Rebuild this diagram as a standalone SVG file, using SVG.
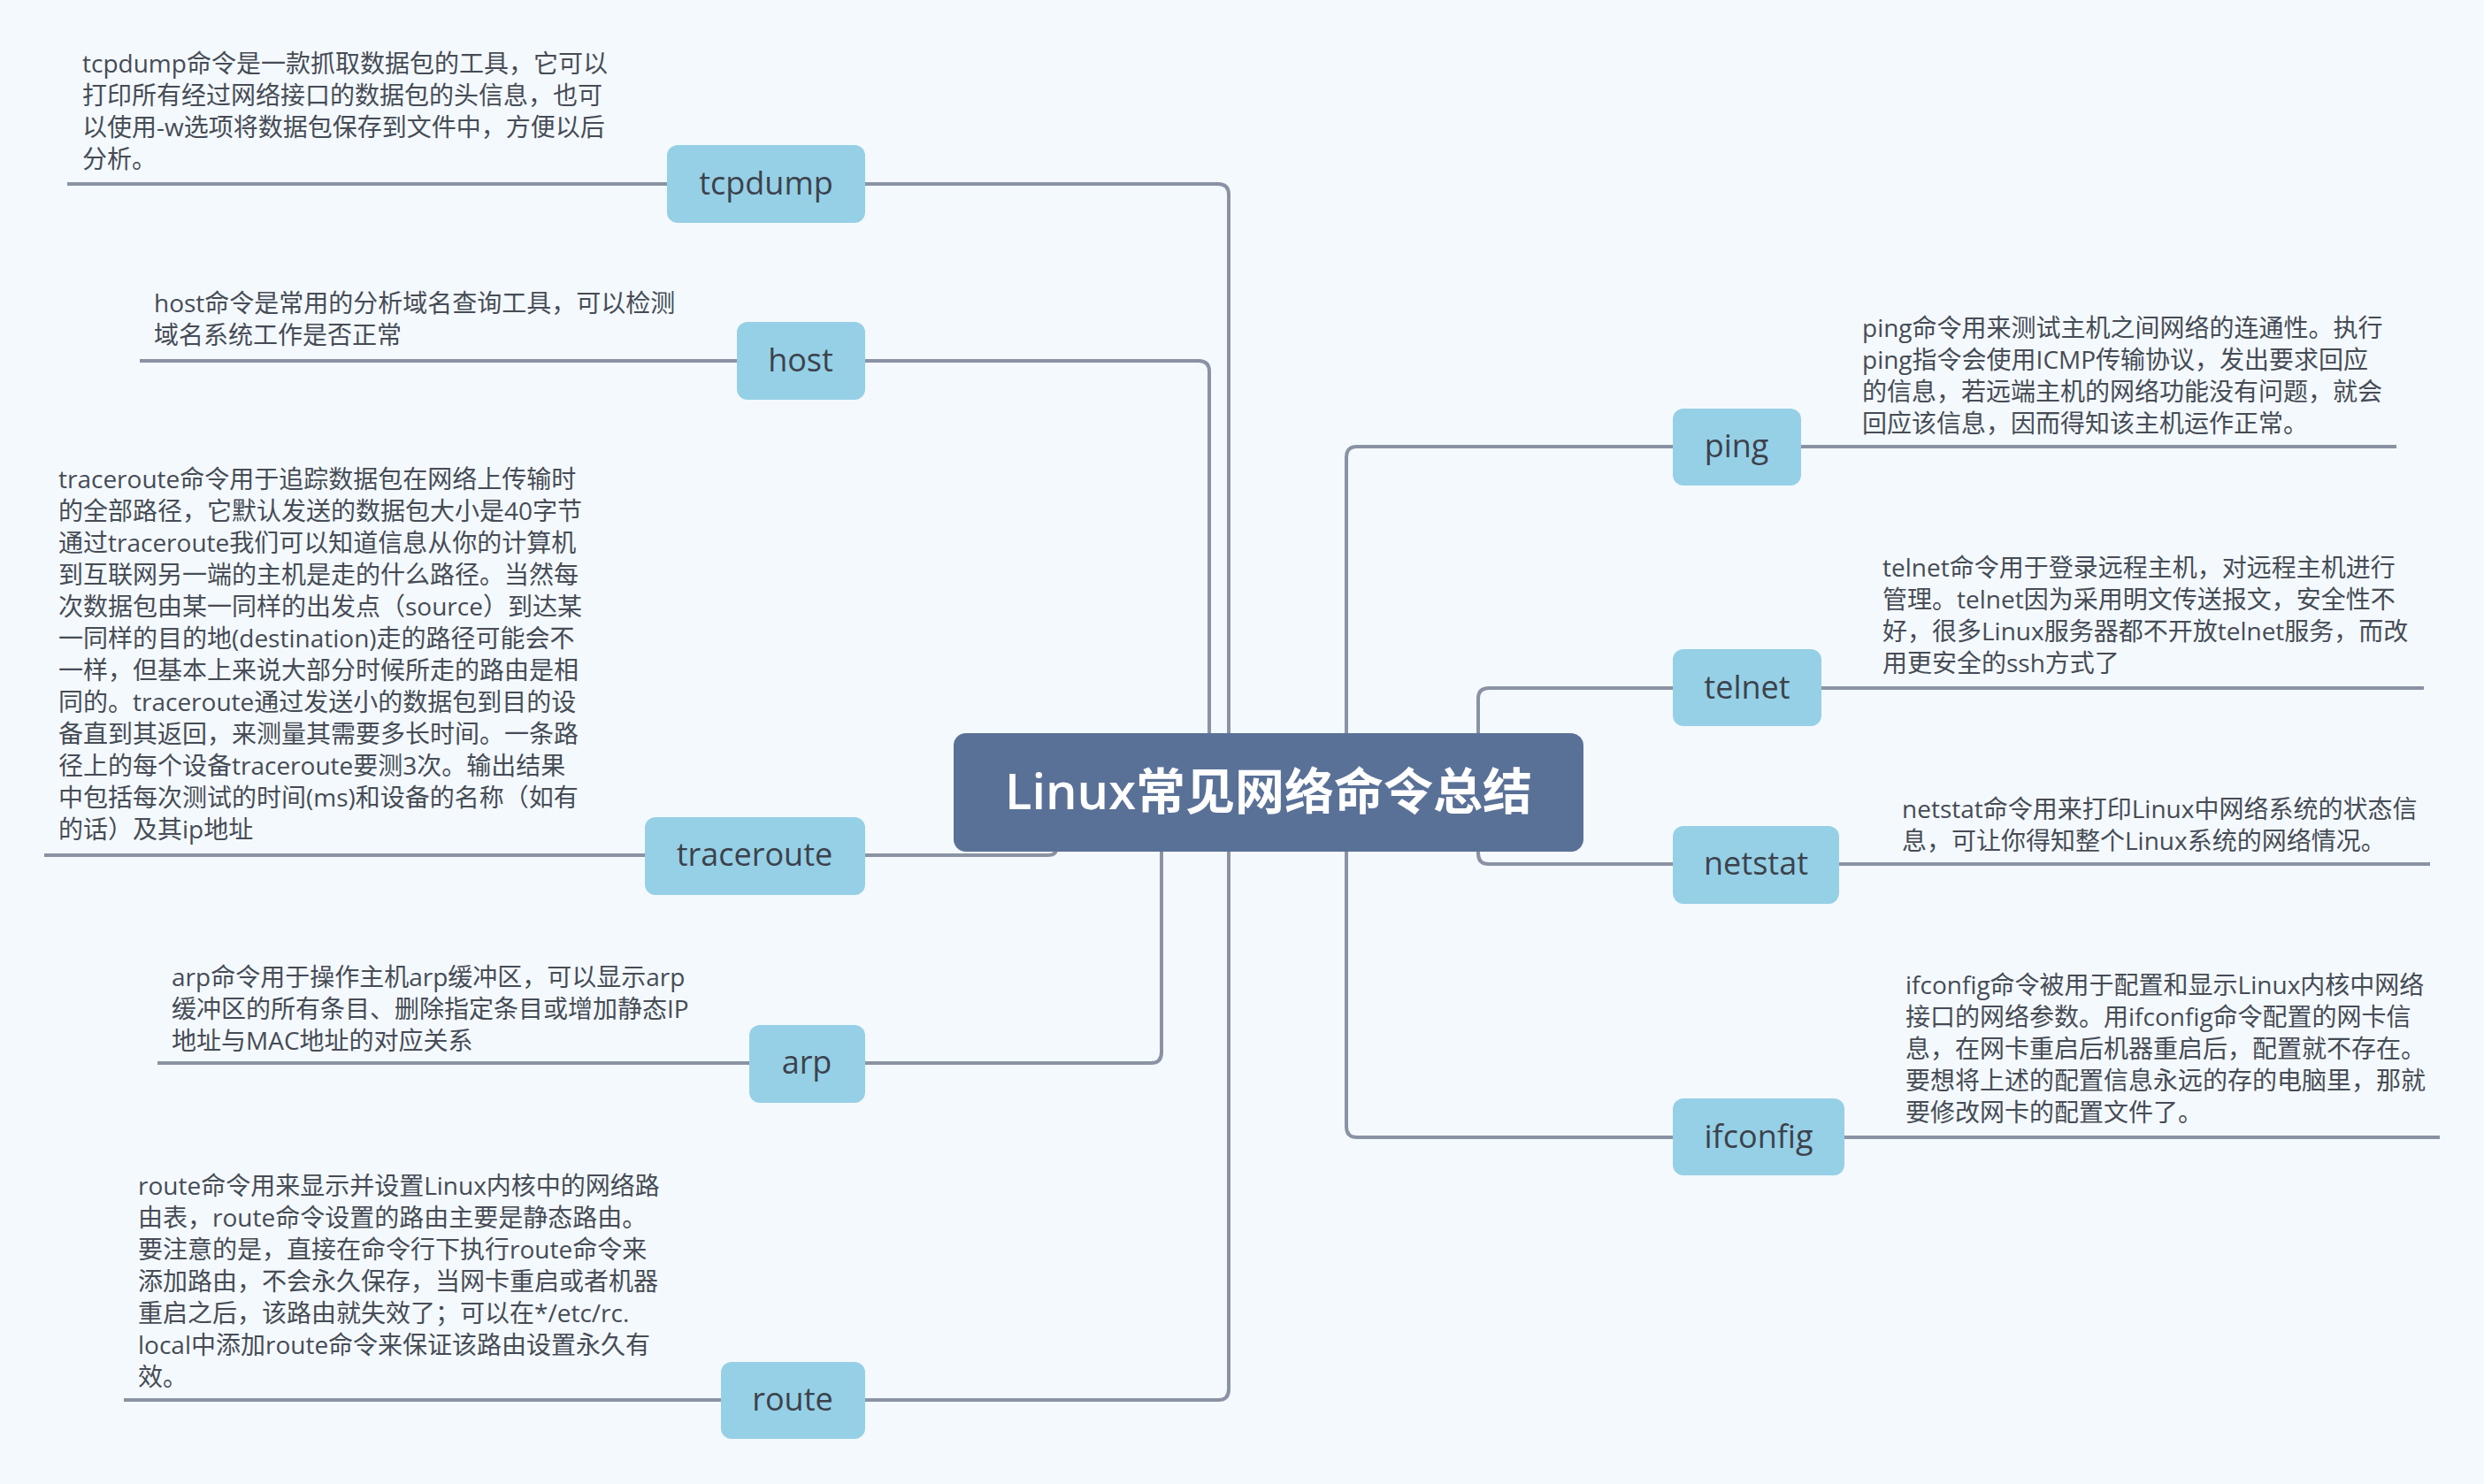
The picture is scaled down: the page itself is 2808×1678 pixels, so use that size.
<svg xmlns="http://www.w3.org/2000/svg" width="2808" height="1678" viewBox="0 0 2808 1678">
<style>
.bg{fill:#f4f9fd}
.ln{fill:none;stroke:#8a93a4;stroke-width:4;stroke-linecap:butt}
.nd{fill:#96d0e6}
.nt{font-family:"Open Sans","Noto Sans CJK SC",sans-serif;font-size:36px;fill:#3c424c;text-anchor:middle}
.ds{font-family:"Open Sans","Noto Sans CJK SC",sans-serif;font-size:28px;fill:#464c56}
.ct{fill:#5a7197}
.tt{font-family:"Open Sans","Noto Sans CJK SC",sans-serif;font-size:56px;font-weight:bold;fill:#ffffff;text-anchor:middle}
</style>
<rect class="bg" x="0" y="0" width="2808" height="1678"/>
<g id="connectors">
<path class="ln" d="M978 208 H1377 Q1389 208 1389 220 V1571 Q1389 1583 1377 1583 H978"/>
<path class="ln" d="M978 408 H1355 Q1367 408 1367 420 V830"/>
<path class="ln" d="M978 967 H1184 Q1194 967 1194 960"/>
<path class="ln" d="M1313 962 V1190 Q1313 1202 1301 1202 H978"/>
<path class="ln" d="M1891 505 H1534 Q1522 505 1522 517 V1274 Q1522 1286 1534 1286 H1891"/>
<path class="ln" d="M1891 778 H1683 Q1671 778 1671 790 V965 Q1671 977 1683 977 H1891"/>
<path class="ln" d="M76 208 H754"/>
<path class="ln" d="M158 408 H833"/>
<path class="ln" d="M50 967 H729"/>
<path class="ln" d="M178 1202 H847"/>
<path class="ln" d="M140 1583 H815"/>
<path class="ln" d="M2036 505 H2709"/>
<path class="ln" d="M2059 778 H2740"/>
<path class="ln" d="M2079 977 H2747"/>
<path class="ln" d="M2085 1286 H2758"/>
</g>
<g id="center">
<rect class="ct" x="1078" y="829" width="712" height="134" rx="14"/>
<text class="tt" x="1434" y="915"><tspan font-weight="600">Linux</tspan>常见网络命令总结</text>
</g>
<g id="tcpdump">
<rect class="nd" x="754" y="164" width="224" height="88" rx="12"/>
<text class="nt" x="866" y="220">tcpdump</text>
<text class="ds" x="93" y="82">tcpdump命令是一款抓取数据包的工具，它可以</text>
<text class="ds" x="93" y="118">打印所有经过网络接口的数据包的头信息，也可</text>
<text class="ds" x="93" y="154">以使用-w选项将数据包保存到文件中，方便以后</text>
<text class="ds" x="93" y="190">分析。</text>
</g>
<g id="host">
<rect class="nd" x="833" y="364" width="145" height="88" rx="12"/>
<text class="nt" x="905" y="420">host</text>
<text class="ds" x="174" y="353">host命令是常用的分析域名查询工具，可以检测</text>
<text class="ds" x="174" y="389">域名系统工作是否正常</text>
</g>
<g id="traceroute">
<rect class="nd" x="729" y="924" width="249" height="88" rx="12"/>
<text class="nt" x="853" y="979">traceroute</text>
<text class="ds" x="66" y="552">traceroute命令用于追踪数据包在网络上传输时</text>
<text class="ds" x="66" y="588">的全部路径，它默认发送的数据包大小是40字节</text>
<text class="ds" x="66" y="624">通过traceroute我们可以知道信息从你的计算机</text>
<text class="ds" x="66" y="660">到互联网另一端的主机是走的什么路径。当然每</text>
<text class="ds" x="66" y="696">次数据包由某一同样的出发点（source）到达某</text>
<text class="ds" x="66" y="732">一同样的目的地(destination)走的路径可能会不</text>
<text class="ds" x="66" y="768">一样，但基本上来说大部分时候所走的路由是相</text>
<text class="ds" x="66" y="804">同的。traceroute通过发送小的数据包到目的设</text>
<text class="ds" x="66" y="840">备直到其返回，来测量其需要多长时间。一条路</text>
<text class="ds" x="66" y="876">径上的每个设备traceroute要测3次。输出结果</text>
<text class="ds" x="66" y="912">中包括每次测试的时间(ms)和设备的名称（如有</text>
<text class="ds" x="66" y="948">的话）及其ip地址</text>
</g>
<g id="arp">
<rect class="nd" x="847" y="1159" width="131" height="88" rx="12"/>
<text class="nt" x="912" y="1214">arp</text>
<text class="ds" x="194" y="1115">arp命令用于操作主机arp缓冲区，可以显示arp</text>
<text class="ds" x="194" y="1151">缓冲区的所有条目、删除指定条目或增加静态IP</text>
<text class="ds" x="194" y="1187">地址与MAC地址的对应关系</text>
</g>
<g id="route">
<rect class="nd" x="815" y="1540" width="163" height="87" rx="12"/>
<text class="nt" x="896" y="1595">route</text>
<text class="ds" x="156" y="1351">route命令用来显示并设置Linux内核中的网络路</text>
<text class="ds" x="156" y="1387">由表，route命令设置的路由主要是静态路由。</text>
<text class="ds" x="156" y="1423">要注意的是，直接在命令行下执行route命令来</text>
<text class="ds" x="156" y="1459">添加路由，不会永久保存，当网卡重启或者机器</text>
<text class="ds" x="156" y="1495">重启之后，该路由就失效了；可以在*/etc/rc.</text>
<text class="ds" x="156" y="1531">local中添加route命令来保证该路由设置永久有</text>
<text class="ds" x="156" y="1567">效。</text>
</g>
<g id="ping">
<rect class="nd" x="1891" y="462" width="145" height="87" rx="12"/>
<text class="nt" x="1963" y="517">ping</text>
<text class="ds" x="2105" y="381">ping命令用来测试主机之间网络的连通性。执行</text>
<text class="ds" x="2105" y="417">ping指令会使用ICMP传输协议，发出要求回应</text>
<text class="ds" x="2105" y="453">的信息，若远端主机的网络功能没有问题，就会</text>
<text class="ds" x="2105" y="489">回应该信息，因而得知该主机运作正常。</text>
</g>
<g id="telnet">
<rect class="nd" x="1891" y="734" width="168" height="87" rx="12"/>
<text class="nt" x="1975" y="790">telnet</text>
<text class="ds" x="2128" y="652">telnet命令用于登录远程主机，对远程主机进行</text>
<text class="ds" x="2128" y="688">管理。telnet因为采用明文传送报文，安全性不</text>
<text class="ds" x="2128" y="724">好，很多Linux服务器都不开放telnet服务，而改</text>
<text class="ds" x="2128" y="760">用更安全的ssh方式了</text>
</g>
<g id="netstat">
<rect class="nd" x="1891" y="934" width="188" height="88" rx="12"/>
<text class="nt" x="1985" y="989">netstat</text>
<text class="ds" x="2150" y="925">netstat命令用来打印Linux中网络系统的状态信</text>
<text class="ds" x="2150" y="961">息，可让你得知整个Linux系统的网络情况。</text>
</g>
<g id="ifconfig">
<rect class="nd" x="1891" y="1242" width="194" height="87" rx="12"/>
<text class="nt" x="1988" y="1298">ifconfig</text>
<text class="ds" x="2154" y="1124">ifconfig命令被用于配置和显示Linux内核中网络</text>
<text class="ds" x="2154" y="1160">接口的网络参数。用ifconfig命令配置的网卡信</text>
<text class="ds" x="2154" y="1196">息，在网卡重启后机器重启后，配置就不存在。</text>
<text class="ds" x="2154" y="1232">要想将上述的配置信息永远的存的电脑里，那就</text>
<text class="ds" x="2154" y="1268">要修改网卡的配置文件了。</text>
</g>
</svg>
